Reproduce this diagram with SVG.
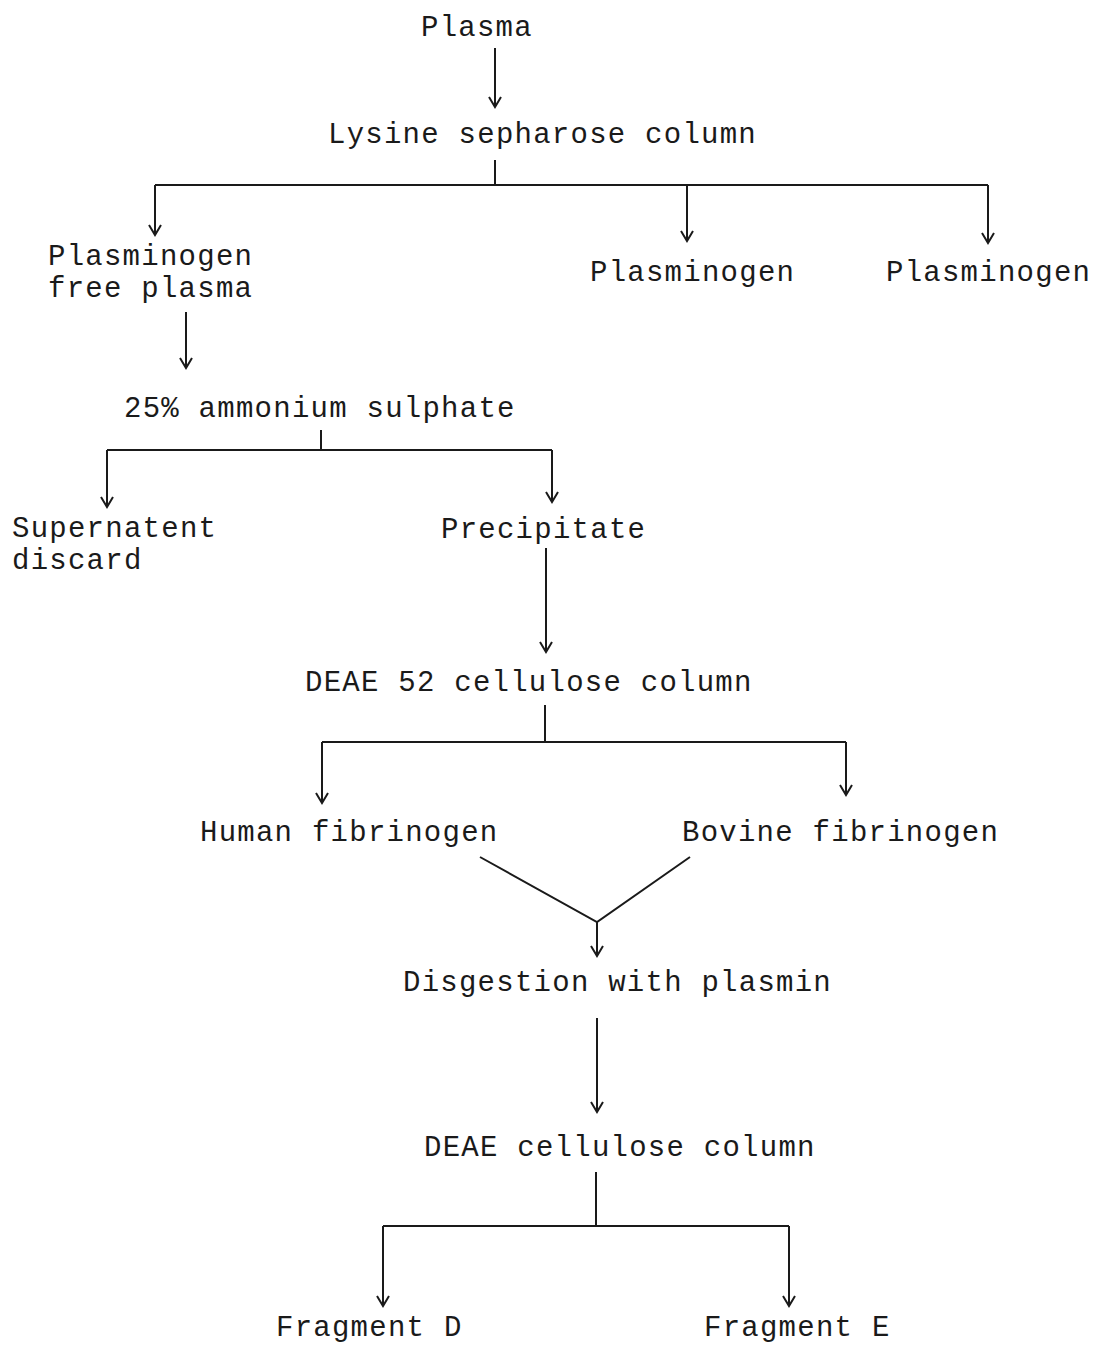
<svg xmlns="http://www.w3.org/2000/svg" width="1096" height="1345" viewBox="0 0 1096 1345">
<defs>
<style>
text{font-family:"Liberation Mono","Courier New",monospace;font-size:29px;letter-spacing:1.25px;fill:#1a1a1a;}
.c{stroke:#1a1a1a;stroke-width:2;fill:none;}
</style>
<marker id="ah" viewBox="-12 -8 14 16" refX="0" refY="0" markerWidth="14" markerHeight="16" markerUnits="userSpaceOnUse" orient="auto">
<path d="M-10,-6 L0,0 L-10,6" fill="none" stroke="#1a1a1a" stroke-width="2"/>
</marker>
</defs>
<rect width="1096" height="1345" fill="#fff"/>
<g id="connectors">
<line class="c" x1="495" y1="48" x2="495" y2="107" marker-end="url(#ah)"/>
<line class="c" x1="495" y1="160" x2="495" y2="185"/>
<line class="c" x1="155" y1="185" x2="988" y2="185"/>
<line class="c" x1="155" y1="185" x2="155" y2="235" marker-end="url(#ah)"/>
<line class="c" x1="687" y1="185" x2="687" y2="241" marker-end="url(#ah)"/>
<line class="c" x1="988" y1="185" x2="988" y2="243" marker-end="url(#ah)"/>
<line class="c" x1="186" y1="312" x2="186" y2="368" marker-end="url(#ah)"/>
<line class="c" x1="321" y1="430" x2="321" y2="450"/>
<line class="c" x1="107" y1="450" x2="552" y2="450"/>
<line class="c" x1="107" y1="450" x2="107" y2="507" marker-end="url(#ah)"/>
<line class="c" x1="552" y1="450" x2="552" y2="502" marker-end="url(#ah)"/>
<line class="c" x1="546" y1="548" x2="546" y2="652" marker-end="url(#ah)"/>
<line class="c" x1="545" y1="705" x2="545" y2="742"/>
<line class="c" x1="322" y1="742" x2="846" y2="742"/>
<line class="c" x1="322" y1="742" x2="322" y2="803" marker-end="url(#ah)"/>
<line class="c" x1="846" y1="742" x2="846" y2="795" marker-end="url(#ah)"/>
<polyline class="c" points="480,857 597,922 690,857"/>
<line class="c" x1="597" y1="922" x2="597" y2="956" marker-end="url(#ah)"/>
<line class="c" x1="597" y1="1018" x2="597" y2="1112" marker-end="url(#ah)"/>
<line class="c" x1="596" y1="1172" x2="596" y2="1226"/>
<line class="c" x1="383" y1="1226" x2="789" y2="1226"/>
<line class="c" x1="383" y1="1226" x2="383" y2="1306" marker-end="url(#ah)"/>
<line class="c" x1="789" y1="1226" x2="789" y2="1306" marker-end="url(#ah)"/>
</g>
<g id="plasma"><text x="421" y="36">Plasma</text></g>
<g id="lysine"><text x="328" y="143">Lysine sepharose column</text></g>
<g id="pfp"><text x="48" y="265">Plasminogen</text><text x="48" y="297">free plasma</text></g>
<g id="plasminogen1"><text x="590" y="281">Plasminogen</text></g>
<g id="plasminogen2"><text x="886" y="281">Plasminogen</text></g>
<g id="ammonium"><text x="124" y="417">25% ammonium sulphate</text></g>
<g id="supernatent"><text x="12" y="537">Supernatent</text><text x="12" y="569">discard</text></g>
<g id="precipitate"><text x="441" y="538">Precipitate</text></g>
<g id="deae52"><text x="305" y="691">DEAE 52 cellulose column</text></g>
<g id="human"><text x="200" y="841">Human fibrinogen</text></g>
<g id="bovine"><text x="682" y="841">Bovine fibrinogen</text></g>
<g id="digestion"><text x="403" y="991">Disgestion with plasmin</text></g>
<g id="deae"><text x="424" y="1156">DEAE cellulose column</text></g>
<g id="fragD"><text x="276" y="1336">Fragment D</text></g>
<g id="fragE"><text x="704" y="1336">Fragment E</text></g>
</svg>
